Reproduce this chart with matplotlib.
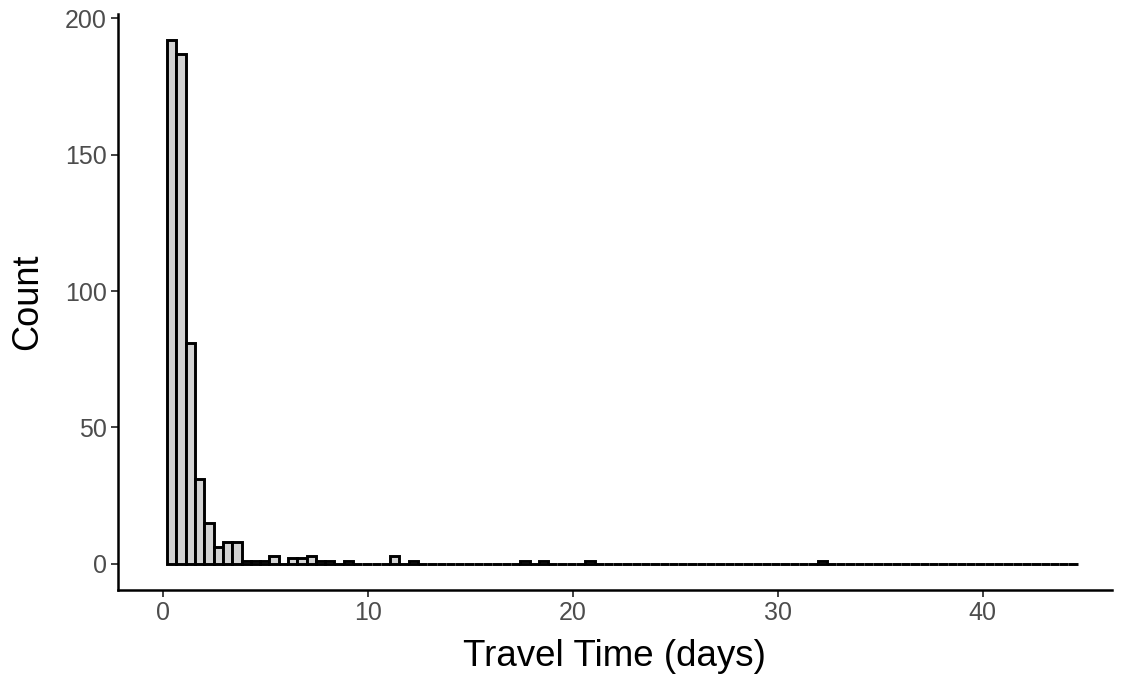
import matplotlib
matplotlib.use("Agg")
import matplotlib.pyplot as plt
import numpy as np

# ── Data (histogram of travel times) ────────────────────────────────────────
BIN_START = 0.20     # days, left edge of first bin
BIN_WIDTH = 0.4535   # days
counts = [192, 187, 81, 31, 15, 6, 8, 8, 1, 1,
          1, 3, 0, 2, 2, 3, 1, 1, 0, 1,
          0, 0, 0, 0, 3, 0, 1, 0, 0, 0,
          0, 0, 0, 0, 0, 0, 0, 0, 1, 0,
          1, 0, 0, 0, 0, 1, 0, 0, 0, 0,
          0, 0, 0, 0, 0, 0, 0, 0, 0, 0,
          0, 0, 0, 0, 0, 0, 0, 0, 0, 0,
          1, 0, 0, 0, 0, 0, 0, 0, 0, 0,
          0, 0, 0, 0, 0, 0, 0, 0, 0, 0,
          0, 0, 0, 0, 0, 0, 0, 0]
x_ticks = [0, 10, 20, 30, 40]
y_ticks = [0, 50, 100, 150, 200]

plt.rcParams["font.family"] = ["Liberation Sans", "DejaVu Sans"]

left_edges = BIN_START + BIN_WIDTH * np.arange(len(counts))

fig = plt.figure(figsize=(11.24, 6.74), dpi=100)
ax = fig.add_axes([0.105, 0.1246, 0.884, 0.8545])

ax.bar(left_edges, counts, width=BIN_WIDTH, align="edge",
       color="#d3d3d3", edgecolor="black", linewidth=2.1)

ax.set_xlim(-2.2, 46.3)
ax.set_ylim(-9.6, 201.6)
ax.set_xticks(x_ticks)
ax.set_yticks(y_ticks)

for side in ("top", "right"):
    ax.spines[side].set_visible(False)
for side in ("left", "bottom"):
    ax.spines[side].set_linewidth(1.8)
    ax.spines[side].set_color("black")

ax.tick_params(axis="both", length=5, width=1.3, color="#333333",
               labelsize=18, labelcolor="#4d4d4d", pad=3)

ax.set_xlabel("Travel Time (days)", fontsize=26.5, color="black", labelpad=10)
ax.set_ylabel("Count", fontsize=26, color="black", labelpad=14)

fig.savefig("out.png", dpi=100)
